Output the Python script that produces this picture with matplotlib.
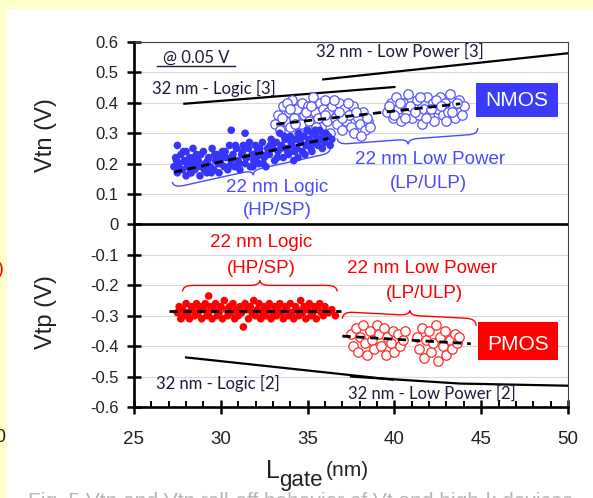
import numpy as np
import matplotlib.pyplot as plt
from matplotlib.patches import Rectangle, PathPatch
from matplotlib.path import Path
from matplotlib.lines import Line2D

W, H = 593, 498

# ---- NMOS, 22 nm logic (filled dots)
n_logic_x = [27.3, 27.4, 27.5, 27.5, 27.6, 27.7, 27.8, 27.9, 28.0, 28.0,
             28.1, 28.2, 28.3, 28.4, 28.4, 28.5, 28.6, 28.7, 28.8, 28.9,
             29.0, 29.1, 29.2, 29.3, 29.4, 29.5, 29.6, 29.7, 29.8, 29.9,
             30.0, 30.1, 30.2, 30.3, 30.4, 30.5, 30.6, 30.6, 30.7, 30.8,
             30.9, 31.0, 31.1, 31.2, 31.3, 31.4, 31.4, 31.5, 31.6, 31.7,
             31.8, 31.9, 32.0, 32.1, 32.2, 32.3, 32.4, 32.5, 32.6, 32.7,
             32.8, 32.9, 33.0, 33.1, 33.2, 33.3, 33.4, 33.5, 33.6, 33.7,
             33.8, 33.9, 34.0, 34.1, 34.2, 34.3, 34.4, 34.5, 34.6, 34.7,
             34.8, 34.9, 35.0, 35.1, 35.2, 35.3, 35.4, 35.5, 35.6, 35.7,
             35.8, 35.9, 36.0, 36.2, 36.4,
             27.45, 27.65, 27.85, 28.05, 28.25, 28.45, 28.65, 28.85, 29.05, 29.25,
             29.45, 29.65, 29.85, 30.05, 30.25, 30.45, 30.65, 30.85, 31.05, 31.25,
             31.45, 31.65, 31.85, 32.05, 32.25, 32.45, 32.65, 32.85, 33.05, 33.25,
             33.45, 33.65, 33.85, 34.05, 34.25, 34.45, 34.65, 34.85, 35.05, 35.25,
             35.45, 35.65, 35.85, 36.05, 36.3]
n_logic_y = [0.19, 0.22, 0.17, 0.26, 0.20, 0.23, 0.18, 0.21, 0.16, 0.24,
             0.19, 0.22, 0.17, 0.25, 0.20, 0.18, 0.23, 0.21, 0.16, 0.19,
             0.24, 0.20, 0.17, 0.22, 0.19, 0.25, 0.18, 0.21, 0.23, 0.17,
             0.20, 0.24, 0.19, 0.22, 0.18, 0.26, 0.31, 0.21, 0.23, 0.19,
             0.25, 0.21, 0.18, 0.23, 0.26, 0.30, 0.20, 0.22, 0.25, 0.19,
             0.23, 0.21, 0.26, 0.24, 0.20, 0.23, 0.27, 0.22, 0.19, 0.25,
             0.23, 0.28, 0.25, 0.21, 0.27, 0.24, 0.30, 0.26, 0.22, 0.28,
             0.25, 0.23, 0.29, 0.26, 0.21, 0.28, 0.25, 0.30, 0.27, 0.24,
             0.29, 0.26, 0.31, 0.28, 0.25, 0.30, 0.27, 0.29, 0.26, 0.31,
             0.28, 0.30, 0.27, 0.29, 0.28,
             0.21, 0.18, 0.24, 0.20, 0.17, 0.22, 0.19, 0.23, 0.18, 0.21,
             0.17, 0.23, 0.20, 0.22, 0.24, 0.19, 0.22, 0.26, 0.20, 0.24,
             0.22, 0.27, 0.19, 0.22, 0.25, 0.20, 0.23, 0.26, 0.27, 0.22,
             0.25, 0.29, 0.24, 0.27, 0.24, 0.22, 0.29, 0.23, 0.27, 0.24,
             0.31, 0.28, 0.25, 0.30, 0.26]

# ---- NMOS, 22 nm low power (open circles)
n_lp_x = [33.1, 33.3, 33.4, 33.6, 33.7, 33.9, 34.0, 34.1, 34.2, 34.4,
          34.5, 34.6, 34.7, 34.8, 35.0, 35.1, 35.2, 35.3, 35.4, 35.6,
          35.7, 35.8, 35.9, 36.0, 36.1, 36.2, 36.3, 36.4, 36.6, 36.7,
          36.8, 36.9, 37.0, 37.1, 37.2, 37.4, 37.5, 37.6, 37.7, 37.9,
          38.0, 38.2, 38.3, 38.5, 38.6,
          33.5, 33.8, 34.3, 34.9, 35.5, 36.0, 36.5, 37.0, 37.3, 37.8,
          38.1, 38.4, 35.2, 34.0, 36.8,
          39.6, 39.8, 39.9, 40.1, 40.2, 40.4, 40.5, 40.7, 40.8, 41.0,
          41.1, 41.3, 41.4, 41.6, 41.7, 41.9, 42.0, 42.2, 42.3, 42.5,
          42.6, 42.8, 42.9, 43.1, 43.2, 43.4, 43.5, 43.7, 43.8, 44.0,
          39.7, 40.0, 40.3, 40.6, 40.9, 41.2, 41.5, 41.8, 42.1, 42.4,
          42.7, 43.0, 43.3, 43.6, 43.9]
n_lp_y = [0.33, 0.36, 0.31, 0.39, 0.34, 0.37, 0.32, 0.41, 0.35, 0.38,
          0.30, 0.33, 0.40, 0.36, 0.39, 0.34, 0.31, 0.42, 0.37, 0.35,
          0.40, 0.32, 0.38, 0.41, 0.34, 0.37, 0.30, 0.39, 0.35, 0.33,
          0.40, 0.36, 0.31, 0.38, 0.34, 0.36, 0.32, 0.39, 0.30, 0.35,
          0.33, 0.37, 0.31, 0.34, 0.32,
          0.35, 0.40, 0.33, 0.37, 0.32, 0.36, 0.41, 0.35, 0.40, 0.37,
          0.29, 0.35, 0.39, 0.38, 0.37,
          0.37, 0.40, 0.35, 0.42, 0.38, 0.34, 0.40, 0.37, 0.43, 0.35,
          0.39, 0.41, 0.36, 0.33, 0.38, 0.42, 0.36, 0.40, 0.34, 0.38,
          0.42, 0.36, 0.40, 0.37, 0.43, 0.39, 0.35, 0.41, 0.37, 0.39,
          0.39, 0.36, 0.40, 0.35, 0.39, 0.37, 0.42, 0.35, 0.38, 0.41,
          0.39, 0.34, 0.37, 0.40, 0.36]

# ---- PMOS, 22 nm logic (filled dots)
p_logic_x = [27.5, 27.6, 27.7, 27.8, 27.9, 28.0, 28.1, 28.2, 28.3, 28.4,
             28.5, 28.6, 28.7, 28.8, 28.9, 29.0, 29.1, 29.2, 29.3, 29.3,
             29.4, 29.5, 29.6, 29.7, 29.8, 29.9, 30.0, 30.1, 30.2, 30.3,
             30.4, 30.5, 30.6, 30.7, 30.8, 30.9, 31.0, 31.1, 31.2, 31.3,
             31.4, 31.5, 31.6, 31.7, 31.8, 31.9, 32.0, 32.1, 32.2, 32.3,
             32.4, 32.5, 32.6, 32.7, 32.8, 32.9, 33.0, 33.1, 33.2, 33.3,
             33.4, 33.5, 33.6, 33.7, 33.8, 33.9, 34.0, 34.1, 34.2, 34.3,
             34.4, 34.5, 34.6, 34.7, 34.8, 34.9, 35.0, 35.1, 35.2, 35.3,
             35.4, 35.5, 35.6, 35.7, 35.8, 35.9, 36.0, 36.2, 36.4, 36.6]
p_logic_y = [-0.29, -0.27, -0.31, -0.28, -0.30, -0.26, -0.29, -0.31, -0.27, -0.28,
             -0.30, -0.26, -0.29, -0.27, -0.31, -0.28, -0.26, -0.30, -0.235, -0.29,
             -0.27, -0.31, -0.28, -0.26, -0.30, -0.29, -0.27, -0.31, -0.25, -0.28,
             -0.30, -0.27, -0.29, -0.26, -0.31, -0.28, -0.30, -0.27, -0.29, -0.337,
             -0.26, -0.28, -0.31, -0.27, -0.29, -0.25, -0.30, -0.28, -0.26, -0.31,
             -0.29, -0.27, -0.30, -0.28, -0.26, -0.31, -0.29, -0.27, -0.30, -0.28,
             -0.26, -0.29, -0.31, -0.27, -0.28, -0.30, -0.26, -0.29, -0.31, -0.27,
             -0.28, -0.30, -0.25, -0.29, -0.27, -0.31, -0.28, -0.26, -0.30, -0.29,
             -0.27, -0.31, -0.28, -0.26, -0.29, -0.30, -0.27, -0.29, -0.28, -0.30]

# ---- PMOS, 22 nm low power (open circles)
p_lp_x = [37.5, 37.6, 37.8, 37.9, 38.0, 38.2, 38.3, 38.4, 38.6, 38.7,
          38.8, 39.0, 39.1, 39.2, 39.4, 39.5, 39.6, 39.8, 39.9, 40.0,
          40.2, 40.3, 40.5, 40.6,
          41.3, 41.4, 41.6, 41.7, 41.8, 42.0, 42.1, 42.2, 42.4, 42.5,
          42.6, 42.8, 42.9, 43.0, 43.2, 43.3, 43.5, 43.6, 43.7]
p_lp_y = [-0.36, -0.40, -0.34, -0.42, -0.37, -0.33, -0.39, -0.43, -0.35, -0.38,
          -0.41, -0.33, -0.36, -0.40, -0.34, -0.43, -0.37, -0.39, -0.35, -0.42,
          -0.36, -0.40, -0.38, -0.35,
          -0.37, -0.41, -0.34, -0.44, -0.38, -0.35, -0.42, -0.39, -0.33, -0.45,
          -0.37, -0.40, -0.35, -0.43, -0.38, -0.41, -0.36, -0.39, -0.37]

# ---- fitted trends (dashed)
n_logic_fit_x, n_logic_fit_y = [27.3, 31.8, 36.2], [0.172, 0.229, 0.283]
n_lp_fit_x, n_lp_fit_y = [33.2, 43.8], [0.33, 0.397]
p_logic_fit_x, p_logic_fit_y = [27.0, 36.9], [-0.285, -0.285]
p_lp_fit_x, p_lp_fit_y = [37.0, 44.4], [-0.367, -0.392]

# ---- 32 nm reference lines
n32_logic_x, n32_logic_y = [27.9, 40.0], [0.397, 0.452]
n32_lp_x, n32_lp_y = [35.9, 50.0], [0.477, 0.563]
p32_logic_x, p32_logic_y = [28.0, 39.9], [-0.437, -0.51]
p32_lp_x, p32_lp_y = [37.5, 43.8, 50.0], [-0.50, -0.523, -0.53]

x_ticks = [25, 30, 35, 40, 45, 50]
y_ticks = [0.6, 0.5, 0.4, 0.3, 0.2, 0.1, 0, -0.1, -0.2, -0.3, -0.4, -0.5, -0.6]
y_ticklabels = ["0.6", "0.5", "0.4", "0.3", "0.2", "0.1", "0",
                "-0.1", "-0.2", "-0.3", "-0.4", "-0.5", "-0.6"]

BLUE = "#3535ff"
BLUE_TXT = "#4a4aff"
RED = "#ff0000"
INK = "#1c1c38"
SANS = ["Liberation Sans", "DejaVu Sans"]
NARROW = ["Liberation Sans Narrow", "Liberation Sans", "DejaVu Sans"]
HUMAN = ["Lato", "DejaVu Sans"]


def fx(px):
    return px / W


def fy(py):
    return 1 - py / H


def draw_brace(ax, p0, p1, depth, tip, color, lw=1.0, r=10):
    # curly brace between two data points, built in pixel space
    a = ax.transData.transform(p0)
    b = ax.transData.transform(p1)
    v = b - a
    L = np.hypot(*v)
    u = v / L
    n = np.array([-u[1], u[0]])
    h = L / 2
    local = [(0, 0), (0, depth), (r, depth), (h - r, depth), (h, depth),
             (h, depth + tip), (h, depth), (h + r, depth), (L - r, depth),
             (L, depth), (L, 0)]
    codes = [Path.MOVETO, Path.CURVE3, Path.CURVE3, Path.LINETO, Path.CURVE3,
             Path.CURVE3, Path.CURVE3, Path.CURVE3, Path.LINETO,
             Path.CURVE3, Path.CURVE3]
    disp = np.array([a + s * u + o * n for s, o in local])
    data = ax.transData.inverted().transform(disp)
    ax.add_patch(PathPatch(Path(data, codes), fill=False, edgecolor=color,
                           lw=lw, zorder=4, clip_on=False))


fig = plt.figure(figsize=(W / 100, H / 100), dpi=100, facecolor="#ffffcc")
fig.add_artist(Rectangle((fx(7), 0), 1, fy(9), transform=fig.transFigure,
                         facecolor="white", edgecolor="none", zorder=-10))

ax = fig.add_axes([fx(134), 91 / H, 434 / W, 365 / H])
ax.set_xlim(25, 50)
ax.set_ylim(-0.6, 0.6)

ax.set_xticks(x_ticks)
ax.set_xticks(range(25, 51), minor=True)
ax.set_yticks(y_ticks)
ax.set_yticklabels(y_ticklabels)
for lab in ax.get_yticklabels():
    lab.set_family(SANS)
    lab.set_fontsize(12)
    lab.set_color("#222222")
for lab in ax.get_xticklabels():
    lab.set_family(SANS)
    lab.set_fontsize(13.5)
    lab.set_color("#222222")

ax.tick_params(axis="x", which="major", direction="inout", length=10, width=1.8, pad=12)
ax.tick_params(axis="x", which="minor", direction="in", length=4, width=1.4)
ax.tick_params(axis="y", which="major", direction="inout", length=10, width=1.8, pad=6)
ax.tick_params(top=False, right=False)

for side in ("left", "bottom"):
    ax.spines[side].set_linewidth(1.9)
    ax.spines[side].set_color("black")
for side in ("top", "right"):
    ax.spines[side].set_linewidth(0.8)
    ax.spines[side].set_color("#444444")

ax.yaxis.grid(True, color="#d9d9d9", lw=0.8)
ax.set_axisbelow(True)
ax.axhline(0, color="black", lw=1.9, zorder=2)

# reference 32 nm data
ax.plot(n32_logic_x, n32_logic_y, color="black", lw=1.6, zorder=3)
ax.plot(n32_lp_x, n32_lp_y, color="black", lw=1.6, zorder=3)
ax.plot(p32_logic_x, p32_logic_y, color="black", lw=1.6, zorder=3)
ax.plot(p32_lp_x, p32_lp_y, color="black", lw=1.6, zorder=3)

# measured 22 nm points
ax.scatter(n_lp_x, n_lp_y, s=46, facecolors="white", edgecolors="#5555ff", linewidths=0.9, zorder=4)
ax.scatter(n_logic_x, n_logic_y, s=30, color=BLUE, edgecolors="none", zorder=5)
ax.scatter(p_lp_x, p_lp_y, s=46, facecolors="white", edgecolors="#ff2a2a", linewidths=0.9, zorder=4)
ax.scatter(p_logic_x, p_logic_y, s=30, color=RED, edgecolors="none", zorder=5)

for fx_, fy_ in [(n_logic_fit_x, n_logic_fit_y), (n_lp_fit_x, n_lp_fit_y),
                 (p_logic_fit_x, p_logic_fit_y), (p_lp_fit_x, p_lp_fit_y)]:
    ax.plot(fx_, fy_, color="black", lw=2.0, dashes=(3, 2), zorder=6)

# braces grouping the point clouds
draw_brace(ax, (27.2, 0.14), (36.3, 0.255), -6, -5, BLUE_TXT)
draw_brace(ax, (36.7, 0.283), (44.8, 0.317), -6, -5, BLUE_TXT)
draw_brace(ax, (27.8, -0.22), (36.7, -0.22), 6, 5, RED)
draw_brace(ax, (37.0, -0.31), (44.7, -0.333), 7, 5, RED)

# annotations
txt = dict(ha="center", va="center")
fig.text(fx(277), fy(187), "22 nm Logic", color=BLUE_TXT, fontsize=13.5, family=SANS, **txt)
fig.text(fx(277), fy(210), "(HP/SP)", color=BLUE_TXT, fontsize=13.5, family=SANS, **txt)
fig.text(fx(430), fy(160), "22 nm Low Power", color=BLUE_TXT, fontsize=13.5, family=SANS, **txt)
fig.text(fx(428), fy(183), "(LP/ULP)", color=BLUE_TXT, fontsize=13.5, family=SANS, **txt)
fig.text(fx(261), fy(242), "22 nm Logic", color=RED, fontsize=13.5, family=SANS, **txt)
fig.text(fx(261), fy(268), "(HP/SP)", color=RED, fontsize=13.5, family=SANS, **txt)
fig.text(fx(422), fy(268), "22 nm Low Power", color=RED, fontsize=13.5, family=SANS, **txt)
fig.text(fx(424), fy(293), "(LP/ULP)", color=RED, fontsize=13.5, family=SANS, **txt)

fig.text(fx(214), fy(88), "32 nm - Logic [3]", color=INK, fontsize=12, family=HUMAN, **txt)
fig.text(fx(400), fy(52), "32 nm - Low Power [3]", color=INK, fontsize=12, family=HUMAN, **txt)
fig.text(fx(218), fy(383), "32 nm - Logic [2]", color=INK, fontsize=12, family=HUMAN, **txt)
fig.text(fx(432), fy(394), "32 nm - Low Power [2]", color=INK, fontsize=12, family=HUMAN, **txt)

fig.text(fx(196), fy(58), "@ 0.05 V", color=INK, fontsize=12, family=HUMAN, **txt)
fig.add_artist(Line2D([fx(157), fx(235)], [fy(66), fy(66)], color=INK, lw=1))

fig.add_artist(Rectangle((fx(476), fy(117)), 82 / W, 34 / H, transform=fig.transFigure,
                         facecolor="#3b3bff", edgecolor="none", zorder=6))
fig.text(fx(517), fy(101), "NMOS", color="white", fontsize=15, family=NARROW, zorder=7, **txt)
fig.add_artist(Rectangle((fx(478), fy(360)), 80 / W, 38 / H, transform=fig.transFigure,
                         facecolor="#ff0000", edgecolor="none", zorder=6))
fig.text(fx(518), fy(344), "PMOS", color="white", fontsize=15, family=NARROW, zorder=7, **txt)

# axis titles
fig.text(fx(46), fy(135), "Vtn (V)", rotation=90, fontsize=17, family=SANS, color="#222222", **txt)
fig.text(fx(46), fy(312), "Vtp (V)", rotation=90, fontsize=17, family=SANS, color="#222222", **txt)
fig.text(fx(266), fy(478), "L", fontsize=18, family=SANS, color="#222222", va="baseline")
fig.text(fx(279), fy(486), "gate", fontsize=16, family=SANS, color="#222222", va="baseline")
fig.text(fx(326), fy(476), "(nm)", fontsize=15, family=SANS, color="#222222", va="baseline")

# text running off the left and bottom edges
fig.text(fx(6), fy(437), "20", ha="right", va="center", fontsize=13.5, family=SANS, color="#222222")
fig.text(fx(5), fy(270), "(HP/SP)", ha="right", va="center", fontsize=13.5, family=SANS, color=RED)
fig.text(fx(28), fy(507), "Fig. 5 Vtn and Vtp roll-off behavior of Vt and high-k devices",
         fontsize=15, family=SANS, color="#b5b5b5", va="baseline")

fig.savefig("out.png", dpi=100, facecolor=fig.get_facecolor())
